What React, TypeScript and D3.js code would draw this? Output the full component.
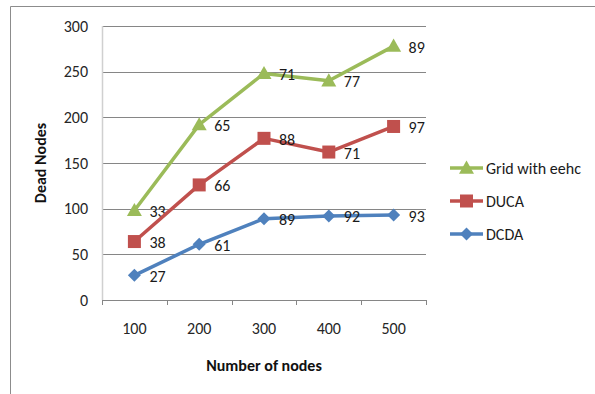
import React from "react";
import * as d3 from "d3";

const categories = ["100", "200", "300", "400", "500"];
const gridValues = [98, 192, 248, 240, 278];
const gridLabels = ["33", "65", "71", "77", "89"];
const ducaValues = [64, 126, 177, 162, 190];
const ducaLabels = ["38", "66", "88", "71", "97"];
const dcdaValues = [27, 61, 89, 92, 93];
const dcdaLabels = ["27", "61", "89", "92", "93"];
const yTicks = [0, 50, 100, 150, 200, 250, 300];

const W = 595;
const H = 394;
const plot = { left: 102, right: 426, top: 26, bottom: 300 };
const font = "Calibri, Carlito, 'Liberation Sans', Arial, sans-serif";
const fs = 16;

type Series = { name: string; values: number[]; labels: string[]; color: string; marker: "triangle" | "square" | "diamond" };

const series: Series[] = [
  { name: "Grid with eehc", values: gridValues, labels: gridLabels, color: "#9bbb59", marker: "triangle" },
  { name: "DUCA", values: ducaValues, labels: ducaLabels, color: "#c0504d", marker: "square" },
  { name: "DCDA", values: dcdaValues, labels: dcdaLabels, color: "#4f81bd", marker: "diamond" },
];

function Marker({ type, x, y, color }: { type: string; x: number; y: number; color: string }) {
  if (type === "triangle") {
    const s = 7.5;
    return <path d={`M${x},${y - s} L${x + s},${y + s * 0.75} L${x - s},${y + s * 0.75} Z`} fill={color} />;
  }
  if (type === "square") {
    return <rect x={x - 6.5} y={y - 6.5} width={13} height={13} fill={color} />;
  }
  const s = 6.5;
  return <path d={`M${x},${y - s} L${x + s},${y} L${x},${y + s} L${x - s},${y} Z`} fill={color} />;
}

export default function App() {
  const x = d3.scaleBand<string>().domain(categories).range([plot.left, plot.right]);
  const y = d3.scaleLinear().domain([0, 300]).range([plot.bottom, plot.top]);
  const cx = (c: string) => (x(c) ?? 0) + x.bandwidth() / 2;
  const line = d3
    .line<number>()
    .x((_, i) => cx(categories[i]))
    .y((v) => y(v));

  const legendY = [168, 201, 234];

  return (
    <svg width={W} height={H} style={{ position: "absolute", left: 0, top: 0, background: "#fff" }}>
      {/* outer frame */}
      <path d={`M10.5,${H} V6.5 H${W}`} fill="none" stroke="#8c8c8c" strokeWidth={1} />

      {/* horizontal gridlines */}
      {yTicks.slice(1).map((t) => (
        <line key={t} x1={plot.left} x2={plot.right} y1={Math.round(y(t)) + 0.5} y2={Math.round(y(t)) + 0.5} stroke="#868686" strokeWidth={1} />
      ))}
      {/* value axis */}
      <line x1={plot.left + 0.5} x2={plot.left + 0.5} y1={plot.top} y2={plot.bottom} stroke="#d0d0d0" strokeWidth={1.5} />
      {/* category axis */}
      <line x1={plot.left} x2={plot.right} y1={plot.bottom + 0.5} y2={plot.bottom + 0.5} stroke="#868686" strokeWidth={1} />
      {categories.concat(["end"]).map((c, i) => {
        const tx = Math.round(plot.left + i * x.bandwidth()) + 0.5;
        return <line key={c} x1={tx} x2={tx} y1={plot.bottom} y2={plot.bottom + 5} stroke="#868686" strokeWidth={1} />;
      })}

      {/* y tick labels */}
      {yTicks.map((t) => (
        <text key={t} x={plot.left - 14} y={y(t)} textAnchor="end" dominantBaseline="central" fontFamily={font} fontSize={fs} fill="#262626">
          {t}
        </text>
      ))}
      {/* x tick labels */}
      {categories.map((c) => (
        <text key={c} x={cx(c)} y={328} textAnchor="middle" dominantBaseline="central" fontFamily={font} fontSize={fs} fill="#262626">
          {c}
        </text>
      ))}

      {/* axis titles */}
      <text x={264} y={365} textAnchor="middle" dominantBaseline="central" fontFamily={font} fontSize={fs} fontWeight="bold" fill="#111">
        Number of nodes
      </text>
      <text transform={`translate(40,163) rotate(-90)`} textAnchor="middle" dominantBaseline="central" fontFamily={font} fontSize={fs} fontWeight="bold" fill="#111">
        Dead Nodes
      </text>

      {/* series */}
      {series.map((s) => (
        <g key={s.name}>
          <path d={line(s.values) ?? ""} fill="none" stroke={s.color} strokeWidth={3.5} strokeLinejoin="round" />
          {s.values.map((v, i) => (
            <Marker key={i} type={s.marker} x={cx(categories[i])} y={y(v)} color={s.color} />
          ))}
          {s.values.map((v, i) => (
            <text key={"l" + i} x={cx(categories[i]) + 15} y={y(v) + 1} dominantBaseline="central" fontFamily={font} fontSize={fs} fill="#1a1a1a">
              {s.labels[i]}
            </text>
          ))}
        </g>
      ))}

      {/* legend */}
      {series.map((s, i) => (
        <g key={"lg" + s.name}>
          <line x1={450} x2={483} y1={legendY[i]} y2={legendY[i]} stroke={s.color} strokeWidth={3.5} />
          <Marker type={s.marker} x={466.5} y={legendY[i]} color={s.color} />
          <text x={486} y={legendY[i]} dominantBaseline="central" fontFamily={font} fontSize={fs} fill="#1a1a1a">
            {s.name}
          </text>
        </g>
      ))}
    </svg>
  );
}
